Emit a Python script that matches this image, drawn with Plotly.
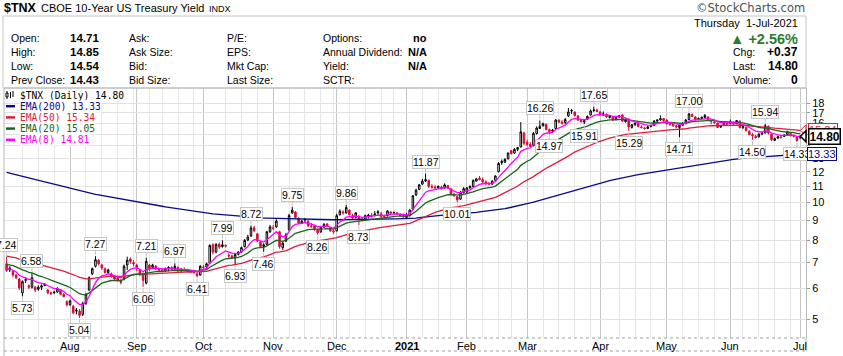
import numpy as np
import pandas as pd
import plotly.graph_objects as go

# ---------------- data (values in yield x10) ----------------
holidays = ["2020-07-03", "2020-09-07", "2020-11-26", "2020-12-25", "2021-01-01",
            "2021-01-18", "2021-02-15", "2021-04-02", "2021-05-31"]
dates = [d for d in pd.bdate_range("2020-07-06", "2021-07-01")
         if d.strftime("%Y-%m-%d") not in holidays]

# (open, high, low, close) per trading day, month by month
jul2020 = [(6.95,7.24,6.62,6.68),(6.70,6.85,6.62,6.78),(6.65,6.68,6.42,6.50),(6.50,6.55,6.35,6.40),
           (6.35,6.40,5.95,6.02),(5.85,6.30,5.73,6.25),(6.30,6.42,6.20,6.33),(6.10,6.15,5.98,6.05),
           (6.05,6.58,6.00,6.40),(6.05,6.10,5.88,5.95),(5.98,6.12,5.92,6.05),(6.05,6.15,5.95,6.10),
           (6.15,6.20,6.08,6.12),(5.95,5.98,5.80,5.85),(5.85,5.90,5.78,5.82),(5.88,5.92,5.80,5.86),
           (5.88,6.05,5.85,6.00),(5.95,5.98,5.78,5.80),(5.80,5.85,5.70,5.72),(5.55,5.60,5.40,5.45)]
aug2020 = [(5.45,5.62,5.42,5.58),(5.40,5.45,5.15,5.20),(5.25,5.35,5.15,5.28),(5.25,5.32,5.04,5.12),
           (5.15,5.55,5.10,5.50),(5.50,5.85,5.45,5.80),(5.95,6.45,5.92,6.40),(6.55,6.80,6.50,6.75),
           (6.85,7.27,6.80,7.12),(7.10,7.15,6.88,6.95),(6.90,6.95,6.70,6.78),(6.75,6.80,6.55,6.60),
           (6.60,6.75,6.55,6.70),(6.55,6.60,6.40,6.45),(6.45,6.50,6.30,6.35),(6.40,6.48,6.25,6.30),
           (6.30,6.35,6.15,6.22),(6.35,6.92,6.30,6.85),(6.90,7.25,6.70,7.10),(7.15,7.22,6.95,7.05),
           (7.00,7.10,6.85,6.95)]
sep2020 = [(6.90,6.95,6.65,6.80),(6.70,6.75,6.45,6.55),(6.55,6.60,6.06,6.30),(6.20,7.21,6.15,7.05),
           (6.90,6.95,6.65,6.75),(6.80,6.95,6.75,6.90),(6.85,6.90,6.70,6.75),(6.70,6.80,6.65,6.70),
           (6.70,6.75,6.60,6.68),(6.68,6.80,6.62,6.75),(6.75,6.85,6.65,6.80),(6.80,6.85,6.70,6.72),
           (6.75,6.97,6.70,6.85),(6.80,6.85,6.62,6.68),(6.70,6.78,6.62,6.72),(6.72,6.80,6.65,6.70),
           (6.68,6.75,6.62,6.65),(6.65,6.70,6.58,6.62),(6.62,6.70,6.55,6.60),(6.55,6.60,6.41,6.48),
           (6.50,6.90,6.48,6.85)]
oct2020 = [(6.80,6.90,6.70,6.82),(6.82,7.00,6.75,6.95),(6.98,7.80,6.95,7.75),(7.78,7.85,7.35,7.45),
           (7.45,7.85,7.40,7.80),(7.80,7.88,7.60,7.68),(7.70,7.99,7.65,7.78),(7.75,7.80,7.65,7.72),
           (7.30,7.40,7.20,7.28),(7.28,7.35,7.15,7.22),(7.20,7.40,6.93,7.35),(7.35,7.50,7.30,7.45),
           (7.45,7.70,7.40,7.65),(7.70,8.05,7.65,7.98),(8.00,8.25,7.95,8.15),(8.20,8.72,8.15,8.60),
           (8.60,8.70,8.40,8.45),(8.30,8.35,7.90,7.95),(7.90,7.95,7.65,7.70),(7.70,7.85,7.46,7.78),
           (7.80,8.45,7.75,8.40),(8.40,8.75,8.35,8.65)]
nov2020 = [(8.60,8.75,8.50,8.58),(8.65,9.05,8.60,8.95),(8.40,8.45,7.60,7.70),(7.65,7.95,7.55,7.85),
           (7.95,8.35,7.90,8.25),(8.50,9.35,8.45,9.25),(9.40,9.75,9.35,9.55),(9.45,9.50,9.10,9.15),
           (9.10,9.15,8.80,8.85),(8.85,9.00,8.80,8.95),(9.00,9.10,8.85,9.05),(8.95,9.00,8.65,8.70),
           (8.70,8.85,8.60,8.68),(8.70,8.75,8.45,8.55),(8.50,8.55,8.26,8.35),(8.40,8.70,8.35,8.62),
           (8.65,8.85,8.60,8.78),(8.80,8.85,8.65,8.70),(8.60,8.65,8.40,8.45),(8.45,8.50,8.30,8.40)]
dec2020 = [(8.45,9.35,8.42,9.25),(9.30,9.60,9.25,9.50),(9.45,9.55,9.30,9.40),(9.40,9.86,9.35,9.70),
           (9.55,9.60,9.25,9.30),(9.25,9.35,9.05,9.12),(9.15,9.45,9.10,9.40),(9.20,9.30,8.73,9.05),
           (9.05,9.15,8.95,9.02),(9.05,9.30,9.00,9.25),(9.20,9.35,9.10,9.28),(9.25,9.40,9.15,9.20),
           (9.25,9.50,9.20,9.35),(9.40,9.55,9.30,9.45),(9.35,9.45,9.10,9.20),(9.20,9.30,9.10,9.18),
           (9.25,9.55,9.20,9.50),(9.45,9.50,9.35,9.38),(9.40,9.48,9.30,9.42),(9.40,9.45,9.30,9.35),
           (9.30,9.38,9.20,9.25),(9.25,9.35,9.15,9.18)]
jan2021 = [(9.15,9.40,9.10,9.25),(9.25,9.60,9.20,9.55),(9.60,10.45,9.55,10.40),(10.45,10.85,10.40,10.75),
           (10.80,11.15,10.75,11.10),(11.15,11.50,11.10,11.35),(11.35,11.87,11.30,11.45),(11.40,11.45,10.90,11.00),
           (11.00,11.15,10.85,10.95),(10.95,11.10,10.85,10.90),(10.90,11.05,10.85,11.00),(10.95,11.05,10.80,10.88),
           (10.90,11.20,10.85,11.10),(11.05,11.10,10.85,10.90),(10.85,10.90,10.45,10.50),(10.50,10.60,10.35,10.40),
           (10.35,10.40,10.01,10.15),(10.20,10.70,10.15,10.60),(10.60,10.95,10.55,10.85)]
feb2021 = [(10.65,10.95,10.55,10.90),(10.90,11.05,10.85,11.00),(11.00,11.45,10.95,11.40),(11.35,11.55,11.30,11.50),
           (11.55,11.70,11.40,11.45),(11.45,11.60,11.20,11.30),(11.30,11.40,11.05,11.20),(11.20,11.30,11.05,11.15),
           (11.15,11.40,11.10,11.35),(11.40,11.75,11.35,11.70),(12.00,12.70,11.95,12.60),(12.65,12.90,12.50,12.75),
           (12.70,13.00,12.65,12.90),(12.95,13.45,12.90,13.40),(13.60,13.65,13.30,13.35),(13.40,13.80,13.35,13.70),
           (13.70,13.90,13.55,13.85),(13.90,16.10,13.85,15.20),(15.10,15.20,14.05,14.20)]
mar2021 = [(14.30,14.50,13.95,14.10),(14.10,14.30,13.85,13.95),(14.00,15.20,13.95,15.05),(15.05,15.70,14.95,15.55),
           (15.50,16.26,15.45,15.70),(15.75,16.05,15.70,15.95),(15.90,15.95,15.35,15.40),(15.40,15.50,14.97,15.25),
           (15.25,15.45,15.10,15.35),(15.50,16.40,15.45,16.30),(16.30,16.35,16.00,16.10),(16.10,16.30,15.85,16.00),
           (16.05,16.50,15.90,16.35),(16.70,17.50,16.60,17.10),(17.20,17.40,16.90,17.25),(17.10,17.15,16.65,16.75),
           (16.70,16.80,16.20,16.30),(16.25,16.40,16.05,16.15),(16.10,16.35,15.91,16.25),(16.40,16.75,16.30,16.65),
           (16.80,17.35,16.75,17.20),(17.25,17.65,17.10,17.30),(17.30,17.45,17.10,17.15)]
apr2021 = [(17.10,17.20,16.75,16.85),(16.85,17.15,16.70,16.90),(16.85,16.95,16.50,16.60),(16.55,16.80,16.45,16.65),
           (16.60,16.70,16.20,16.30),(16.35,16.65,16.25,16.60),(16.60,16.75,16.50,16.70),(16.80,16.90,16.10,16.20),
           (16.15,16.45,16.05,16.35),(16.40,16.45,15.29,15.65),(15.60,15.90,15.50,15.85),(15.85,16.05,15.75,16.00),
           (15.95,16.00,15.60,15.70),(15.65,15.80,15.50,15.60),(15.55,15.65,15.40,15.50),(15.50,15.80,15.45,15.65),
           (15.70,15.85,15.60,15.75),(15.80,16.30,15.75,16.20),(16.20,16.35,16.05,16.30),(16.30,16.75,16.25,16.45),
           (16.45,16.50,16.15,16.25)]
may2021 = [(16.30,16.35,15.85,15.95),(15.95,16.05,15.75,15.90),(15.90,15.95,15.65,15.75),(15.75,15.85,15.55,15.65),
           (15.60,15.85,14.71,15.80),(15.80,16.10,15.75,16.00),(15.95,16.40,15.90,16.30),(16.35,17.00,16.30,16.90),
           (16.85,16.95,16.60,16.65),(16.60,16.70,16.25,16.35),(16.35,16.55,16.30,16.45),(16.45,16.65,16.40,16.55),
           (16.55,16.90,16.45,16.75),(16.60,16.65,16.25,16.30),(16.25,16.35,15.90,16.20),(16.10,16.20,15.95,16.05),
           (16.00,16.05,15.55,15.60),(15.65,15.80,15.55,15.75),(15.80,16.15,15.75,16.10),(16.05,16.15,15.80,15.90)]
jun2021 = [(15.95,16.35,15.90,16.10),(16.05,16.15,15.85,15.95),(15.95,16.30,15.90,16.25),(16.20,16.25,15.50,15.60),
           (15.60,15.75,15.45,15.70),(15.60,15.65,15.25,15.30),(15.25,15.35,14.90,14.95),(14.95,15.10,14.50,14.85),
           (14.80,14.95,14.60,14.70),(14.75,15.05,14.70,15.00),(15.00,15.15,14.90,15.10),(15.10,15.94,15.05,15.75),
           (15.70,15.80,14.95,15.10),(15.00,15.05,14.40,14.50),(14.45,14.70,14.40,14.60),(14.65,14.85,14.55,14.75),
           (14.75,14.90,14.60,14.70),(14.80,15.00,14.75,14.90),(14.95,15.30,14.90,15.20),(15.05,15.10,14.80,14.85),
           (14.85,14.95,14.70,14.80),(14.75,14.80,14.33,14.43)]
jul2021 = [(14.71,14.85,14.54,14.80)]

# moving-average settings and their values at the left edge of the chart
ema_spans = [200, 50, 20, 8]
ema_start = [12.0, 7.3, 6.95, 6.75]
ema_colors = ["#0A0A85", "#DC1E3C", "#17661A", "#FF00FF"]
legend_texts = ["$TNX (Daily) 14.80", "EMA(200) 13.33", "EMA(50) 15.34", "EMA(20) 15.05", "EMA(8) 14.81"]

# high / low labels shown on the chart
label_dates = ["2020-07-06", "2020-07-16", "2020-07-13", "2020-08-06", "2020-08-13", "2020-09-03",
               "2020-09-04", "2020-09-18", "2020-09-29", "2020-10-09", "2020-10-15", "2020-10-22",
               "2020-10-28", "2020-11-10", "2020-11-20", "2020-12-04", "2020-12-10", "2021-01-12",
               "2021-01-27", "2021-03-05", "2021-03-10", "2021-03-30", "2021-03-25", "2021-04-15",
               "2021-05-07", "2021-05-12", "2021-06-16", "2021-06-10", "2021-06-30"]
label_texts = ["7.24", "6.58", "5.73", "5.04", "7.27", "6.06", "7.21", "6.97", "6.41", "7.99", "6.93",
               "8.72", "7.46", "9.75", "8.26", "9.86", "8.73", "11.87", "10.01", "16.26", "14.97",
               "17.65", "15.91", "15.29", "14.71", "17.00", "15.94", "14.50", "14.33"]
label_kinds = ["H", "H", "L", "L", "H", "L", "H", "H", "L", "H", "L", "H", "L", "H", "L", "H", "L",
               "H", "L", "H", "L", "H", "L", "L", "L", "H", "H", "L", "L"]

# right-side value tags
tag_values = [15.34, 13.33, 14.80]
tag_colors = ["#DC1E3C", "#0A0A85", "#000000"]

y_ticks = [5, 6, 7, 8, 9, 10, 11, 12, 13, 14, 15, 16, 17, 18]
y_ticktext = ["5", "6", "7", "8", "9", "10", "11", "12", "13", "", "", "16", "17", "18"]

# header information
info_labels = [["Open:", "High:", "Low:", "Prev Close:"],
               ["Ask:", "Ask Size:", "Bid:", "Bid Size:"],
               ["P/E:", "EPS:", "Mkt Cap:", "Last Size:"],
               ["Options:", "Annual Dividend:", "Yield:", "SCTR:"]]
info_values = [["14.71", "14.85", "14.54", "14.43"], ["", "", "", ""], ["", "", "", ""],
               ["no", "N/A", "N/A", ""]]
quote_labels = ["Chg:", "Last:", "Volume:"]
quote_values = ["+0.37", "14.80", "0"]

# ---------------- build ----------------
rows = jul2020 + aug2020 + sep2020 + oct2020 + nov2020 + dec2020 + jan2021 + feb2021 + \
       mar2021 + apr2021 + may2021 + jun2021 + jul2021
opens = [r[0] for r in rows]
highs = [r[1] for r in rows]
lows = [r[2] for r in rows]
closes = [r[3] for r in rows]
n = len(rows)
idx = list(range(n))
dstr = [d.strftime("%Y-%m-%d") for d in dates]

SANS = "Liberation Sans"
MONO = "DejaVu Sans Mono"
W, H = 843, 356
ML, MR, MT, MB = 4, 37, 88, 18
PW, PH = W - ML - MR, H - MT - MB
YR = [0.6509, 1.2947]
XR = [-0.82, 251.86]


def fx(x):
    return (x - ML) / PW


def fy(y):
    return 1 - (y - MT) / PH


def ypix(v):
    return MT + (YR[1] - np.log10(v)) / (YR[1] - YR[0]) * PH


def ema(vals, span, seed):
    a = 2.0 / (span + 1)
    e, out = seed, []
    for v in vals:
        e = e + a * (v - e)
        out.append(e)
    return out


fig = go.Figure()

for span, seed, col in zip(ema_spans, ema_start, ema_colors):
    fig.add_trace(go.Scatter(x=idx, y=ema(closes, span, seed), mode="lines",
                             line=dict(color=col, width=1.3), hoverinfo="skip"))

prev = [opens[0]] + closes[:-1]
red_ix = [i for i in idx if closes[i] < prev[i]]
blk_ix = [i for i in idx if closes[i] >= prev[i]]
for ix, col in [(blk_ix, "#000000"), (red_ix, "#D0103A")]:
    fig.add_trace(go.Candlestick(
        x=ix, open=[opens[i] for i in ix], high=[highs[i] for i in ix],
        low=[lows[i] for i in ix], close=[closes[i] for i in ix],
        increasing=dict(line=dict(color=col, width=1), fillcolor="white"),
        decreasing=dict(line=dict(color=col, width=1), fillcolor=col),
        whiskerwidth=0, hoverinfo="skip"))

# month ticks and weekly grid
month_idx, month_txt = [], []
for i in range(1, n):
    if dates[i].month != dates[i - 1].month:
        month_idx.append(i)
        month_txt.append("<b>2021</b>" if dates[i].month == 1 else dates[i].strftime("%b"))
week_idx = []
for i in range(1, n):
    if dates[i].isocalendar()[1] != dates[i - 1].isocalendar()[1]:
        if all(not (0 <= i - m <= 2) for m in month_idx):
            week_idx.append(i)

ann = []
shapes = []


def txt(x, y, s, size=11, color="#000", bold=False, anchor="left", family=SANS, bg=None):
    d = dict(xref="paper", yref="paper", x=fx(x), y=fy(y), text=(f"<b>{s}</b>" if bold else s),
             showarrow=False, xanchor=anchor, yanchor="middle",
             font=dict(size=size, color=color, family=family), borderpad=0)
    if bg:
        d["bgcolor"] = bg
    ann.append(d)


def line(x0, y0, x1, y1, color="#c0c0c0", width=1, dash=None):
    shapes.append(dict(type="line", xref="paper", yref="paper", x0=fx(x0), y0=fy(y0),
                       x1=fx(x1), y1=fy(y1), line=dict(color=color, width=width, dash=dash)))


# header
txt(3, 8, "$TNX", size=12.5, bold=True)
txt(40, 8.5, "CBOE 10-Year US Treasury Yield", size=11)
txt(208, 9, "INDX", size=9)
txt(806, 8, "©StockCharts.com", size=11.5, color="#505050", anchor="right", family="DejaVu Sans")
shapes.append(dict(type="rect", xref="paper", yref="paper", x0=fx(3), x1=fx(806), y0=fy(88), y1=fy(16),
                   line=dict(color="#c4c4c4", width=1)))
row_y = [37.5, 51.8, 66, 79.5]
col_x = [10, 128, 226, 322]
val_x = [100, None, None, 428]
for c in range(4):
    for r in range(4):
        txt(col_x[c], row_y[r], info_labels[c][r], size=10.5)
        if info_values[c][r]:
            txt(val_x[c], row_y[r], info_values[c][r], size=11.5 if c == 0 else 11, bold=True, anchor="right")
txt(799, 23.3, "Thursday  1-Jul-2021", size=11, anchor="right")
txt(799, 38.5, "▲ +2.56%", size=14.5, bold=True, color="#2E7A2E", anchor="right")
for k, (ql, qv) in enumerate(zip(quote_labels, quote_values)):
    txt(732, 52.3 + 13.9 * k, ql, size=10.5)
    txt(799, 52.3 + 13.9 * k, qv, size=12, bold=True, anchor="right")

# plot frame
line(4, 88, 806, 88, color="#b8b8b8")
line(4, 88, 4, 356, color="#b8b8b8")
line(4, 338, 806, 338, color="#a0a0a0", dash="dot")
line(4, 351, 806, 351, color="#a0a0a0", dash="dot")
line(806, 338, 806, 351, color="#b8b8b8")

# month labels under the plot (positioned through the x axis)
for m, t in zip(month_idx, month_txt):
    ann.append(dict(xref="x", yref="paper", x=m, y=fy(345.5), text=t, showarrow=False,
                    xanchor="center", yanchor="middle", font=dict(size=11, family=SANS, color="#000")))

# legend
leg_colors = ["#000000"] + ema_colors
for k, (t, col) in enumerate(zip(legend_texts, leg_colors)):
    yy = 95 + 11.2 * k
    txt(18.5, yy, t, size=9.6, color=col, family=MONO, bg="white")
    if k == 0:
        line(7, yy - 4, 7, yy + 4, color="#000", width=1)
        line(10.5, yy - 3, 10.5, yy + 3, color="#000", width=1)
        line(13, yy - 4, 13, yy + 2, color="#000", width=1)
        shapes.append(dict(type="rect", xref="paper", yref="paper", x0=fx(6), x1=fx(8), y0=fy(yy + 2),
                           y1=fy(yy - 2), line=dict(color="#000", width=1), fillcolor="white"))
    else:
        line(6, yy, 15, yy, color=col, width=2.5)

# high / low labels
pos = {d: i for i, d in enumerate(dstr)}
for d, t, k in zip(label_dates, label_texts, label_kinds):
    ann.append(dict(xref="x", yref="y", x=pos[d], y=np.log10(float(t)), text=t,
                    showarrow=True, arrowhead=0, arrowcolor="#c4c4c4", arrowwidth=1,
                    ax=0, ay=(-12 if k == "H" else 12), standoff=1,
                    font=dict(size=10.5, family=SANS, color="#000"), bgcolor="white",
                    bordercolor="#c8c8c8", borderwidth=1, borderpad=0))

# right-side tags
tag_right = [838, 837, 841]
for v, col, xr in zip(tag_values, tag_colors, tag_right):
    yy = ypix(v)
    bold = col == "#000000"
    shapes.append(dict(type="path", xref="paper", yref="paper",
                       path=f"M {fx(806)},{fy(yy - 5.5)} L {fx(800.5)},{fy(yy)} L {fx(806)},{fy(yy + 5.5)} Z",
                       fillcolor="white", line=dict(color=col, width=1.5 if bold else 1)))
    ann.append(dict(xref="paper", yref="y", x=fx(xr), y=np.log10(v), xanchor="right", yanchor="middle",
                    text=(f"<b>{v:.2f}</b>" if bold else f"{v:.2f}"), showarrow=False,
                    font=dict(size=12 if bold else 11, family=SANS, color=col), bgcolor="white",
                    bordercolor=col, borderwidth=1.5 if bold else 1, borderpad=0))

fig.update_layout(
    width=W, height=H, margin=dict(l=ML, r=MR, t=MT, b=MB, pad=0),
    paper_bgcolor="white", plot_bgcolor="white", showlegend=False, hovermode=False,
    boxmode="overlay",
    xaxis=dict(range=XR, rangeslider=dict(visible=False), tickmode="array", tickvals=month_idx,
               showticklabels=False, showgrid=True, gridcolor="#c6c6c6", gridwidth=1, ticks="",
               zeroline=False, showline=False, automargin=False,
               minor=dict(tickmode="array", tickvals=week_idx, showgrid=True, gridcolor="#e6e6e6",
                          gridwidth=1, ticks="")),
    yaxis=dict(type="log", range=YR, side="right", tickmode="array", tickvals=y_ticks,
               ticktext=y_ticktext, showgrid=True, gridcolor="#e2e2e2", ticks="outside",
               ticklen=3, tickcolor="#999", tickfont=dict(size=11, family=SANS, color="#000"),
               zeroline=False, showline=True, linecolor="#b8b8b8", automargin=False),
    annotations=ann, shapes=shapes,
)
fig.write_html("out.html", config={"displayModeBar": False},
               post_script="document.body.style.margin='0';document.body.style.overflow='hidden';")
